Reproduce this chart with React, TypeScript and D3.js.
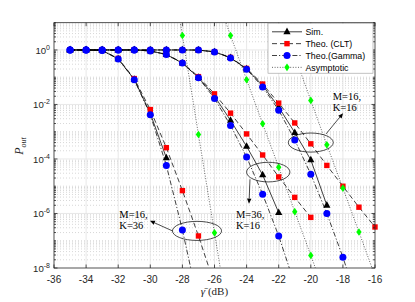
import { useEffect, useRef } from 'react'
import * as d3 from 'd3'

// axis ticks
const xTicks = [-36, -34, -32, -30, -28, -26, -24, -22, -20, -18, -16]
const yTickExps = [-8, -6, -4, -2, 0]

// M=16, K=36
const snrM16K36 = [-35, -34, -33, -32, -31, -30, -29, -28, -27, -26]
const simM16K36 = [1, 1, 0.96, 0.47, 0.083, 4.7e-3, 1.1e-4]
const cltM16K36 = [1, 1, 0.96, 0.49, 0.089, 6.5e-3, 2.6e-4, 6.9e-6, 1.5e-7, 2.5e-9]
const gamM16K36 = [1, 1, 0.96, 0.47, 0.081, 4.2e-3, 5.8e-5, 2.5e-7, 5e-10]
const snrAsyM16K36 = [-29, -28, -27, -26, -25]
const asyM16K36 = [1.4e4, 3.4, 7.9e-4, 1.95e-7, 5e-11]

// M=36, K=16
const snrM36K16 = [-35, -34, -33, -32, -31, -30, -29, -28, -27, -26, -25, -24, -23, -22, -21, -20]
const simM36K16 = [1, 1, 1, 1, 1, 0.92, 0.68, 0.33, 0.097, 0.02, 2.6e-3, 2.9e-4, 2.6e-5, 1.07e-6]
const cltM36K16 = [1, 1, 1, 1, 1, 0.92, 0.69, 0.34, 0.105, 0.0245, 4.8e-3, 8.3e-4, 1.4e-4, 2.2e-5, 3.9e-6, 7.2e-7]
const gamM36K16 = [1, 1, 1, 1, 1, 0.92, 0.68, 0.33, 0.095, 0.0166, 1.7e-3, 1.17e-4, 5.1e-6, 1.5e-7, 2.5e-9]
const snrAsyM36K16 = [-26, -25, -24, -23, -22, -21, -20, -19]
const asyM36K16 = [141, 3.4, 0.081, 1.95e-3, 5e-5, 1.17e-6, 2.9e-8, 7e-10]

// M=16, K=16
const snrM16K16 = [-35, -34, -33, -32, -31, -30, -29, -28, -27, -26, -25, -24, -23, -22, -21, -20, -19, -18, -17, -16]
const simM16K16 = [1, 1, 1, 1, 1, 1, 1, 1, 0.99, 0.85, 0.52, 0.2, 0.05, 8e-3, 9.3e-4, 9.3e-5, 2.0e-6]
const cltM16K16 = [1, 1, 1, 1, 1, 1, 1, 1, 0.99, 0.86, 0.53, 0.21, 0.056, 0.0112, 2.1e-3, 3.6e-4, 5.8e-5, 1.0e-5, 1.7e-6, 3.2e-7]
const gamM16K16 = [1, 1, 1, 1, 1, 1, 1, 1, 0.99, 0.85, 0.51, 0.195, 0.044, 6.2e-3, 5e-4, 2.75e-5, 1.0e-6, 2.5e-8, 4e-10]
const snrAsyM16K16 = [-22, -21, -20, -19, -18, -17, -16]
const asyM16K16 = [25, 0.6, 0.0141, 3.3e-4, 8.5e-6, 2.1e-7, 5e-9]

const legendLabels = ['Sim.', 'Theo. (CLT)', 'Theo.(Gamma)', 'Asymptotic']

// annotations: ellipse centre (dB, Pout), radii (dB, decades), arrow, text
const notes = [
  { lines: ['M=16,', 'K=36'], cx: -27.09, cy: 2.3e-7, rx: 1.53, ry: 0.35, from: [-28.62, 2.3e-7], to: [-30.02, 5.4e-7], tx: -31.93, ty: 7.1e-7 },
  { lines: ['M=36,', 'K=16'], cx: -22.65, cy: 3.3e-5, rx: 1.35, ry: 0.36, from: [-23.79, 1.8e-5], to: [-23.85, 2.3e-6], tx: -24.66, ty: 6.7e-7 },
  { lines: ['M=16,', 'K=16'], cx: -20.0, cy: 4.0e-4, rx: 1.4, ry: 0.35, from: [-19.05, 8.3e-4], to: [-17.99, 4.8e-3], tx: -18.64, ty: 0.0146 },
]

const zip = (xs: number[], vs: number[]) => vs.map((v, i) => [xs[i], v] as [number, number])

const plot = { left: 54, right: 375, top: 22.7, bottom: 268 }

export default function App() {
  const ref = useRef<SVGSVGElement>(null)

  useEffect(() => {
    const svg = d3.select(ref.current)
    svg.selectAll('*').remove()

    const x = d3.scaleLinear().domain([-36, -16]).range([plot.left, plot.right])
    const y = d3.scaleLog().domain([1e-8, 10]).range([plot.bottom, plot.top])
    const pxPerDecade = y(1) - y(10)
    const axisCol = '#262626'
    const sans = 'Liberation Sans, Arial, sans-serif'
    const serif = 'Liberation Serif, Times New Roman, serif'

    svg.append('rect').attr('width', 415).attr('height', 302).attr('fill', '#fff')
    svg.append('defs').append('clipPath').attr('id', 'plotclip')
      .append('rect')
      .attr('x', plot.left).attr('y', plot.top)
      .attr('width', plot.right - plot.left).attr('height', plot.bottom - plot.top)

    // log sub-ticks
    const logTicks: { v: number; major: boolean }[] = []
    for (let k = -8; k <= 0; k++) {
      for (let m = 1; m <= 9; m++) {
        const v = m * Math.pow(10, k)
        logTicks.push({ v, major: m === 1 && yTickExps.includes(k) })
      }
    }

    const grid = svg.append('g')
    grid.selectAll('line.minor')
      .data(logTicks.filter((t) => !t.major))
      .join('line')
      .attr('x1', plot.left).attr('x2', plot.right)
      .attr('y1', (d) => y(d.v)).attr('y2', (d) => y(d.v))
      .attr('stroke', '#bdbdbd').attr('stroke-width', 0.6).attr('stroke-dasharray', '1,2')
    grid.selectAll('line.hmaj')
      .data(logTicks.filter((t) => t.major && t.v < 1 && t.v > 1e-8).concat([{ v: 1, major: true }]))
      .join('line')
      .attr('x1', plot.left).attr('x2', plot.right)
      .attr('y1', (d) => y(d.v)).attr('y2', (d) => y(d.v))
      .attr('stroke', '#e2e2e2').attr('stroke-width', 0.8)
    grid.selectAll('line.vmaj')
      .data(xTicks.slice(1, -1))
      .join('line')
      .attr('x1', (d) => x(d)).attr('x2', (d) => x(d))
      .attr('y1', plot.top).attr('y2', plot.bottom)
      .attr('stroke', '#e2e2e2').attr('stroke-width', 0.8)

    // data
    const line = d3.line<[number, number]>().x((d) => x(d[0])).y((d) => y(d[1]))
    const data = svg.append('g')
    const lines = data.append('g').attr('clip-path', 'url(#plotclip)')
    const marks = data.append('g')
    const inRange = (d: [number, number]) => d[1] >= 1e-8 && d[1] <= 10

    const tri = 'M0,-4.2L3.6,2.4L-3.6,2.4Z'
    const diamond = 'M0,-3.8L2.7,0L0,3.8L-2.7,0Z'

    const drawMarkers = (g: any, pts: [number, number][], kind: string) => {
      if (kind === 'sim') {
        g.selectAll(null).data(pts).join('path')
          .attr('d', tri).attr('transform', (d: number[]) => `translate(${d[0]},${d[1]})`).attr('fill', '#000')
      } else if (kind === 'clt') {
        g.selectAll(null).data(pts).join('rect')
          .attr('x', (d: number[]) => d[0] - 2.7).attr('y', (d: number[]) => d[1] - 2.7)
          .attr('width', 5.4).attr('height', 5.4).attr('fill', '#ff0000')
      } else if (kind === 'gam') {
        g.selectAll(null).data(pts).join('circle')
          .attr('cx', (d: number[]) => d[0]).attr('cy', (d: number[]) => d[1]).attr('r', 3.5).attr('fill', '#0000ff')
      } else {
        g.selectAll(null).data(pts).join('path')
          .attr('d', diamond).attr('transform', (d: number[]) => `translate(${d[0]},${d[1]})`).attr('fill', '#00ff00')
      }
    }

    const drawSeries = (pts: [number, number][], dash: string | null, stroke: string, kind: string) => {
      lines.append('path').datum(pts)
        .attr('fill', 'none').attr('stroke', stroke).attr('stroke-width', 0.75)
        .attr('stroke-dasharray', dash)
        .attr('d', line)
      drawMarkers(marks, pts.filter(inRange).map((d) => [x(d[0]), y(d[1])] as [number, number]), kind)
    }

    const solid = null
    const dashed = '5,3'
    const dashDot = '5,2,1.2,2'
    const dotted = '1,1.6'

    drawSeries(zip(snrM16K36, simM16K36), solid, '#000', 'sim')
    drawSeries(zip(snrM36K16, simM36K16), solid, '#000', 'sim')
    drawSeries(zip(snrM16K16, simM16K16), solid, '#000', 'sim')
    drawSeries(zip(snrM16K36, cltM16K36), dashed, '#000', 'clt')
    drawSeries(zip(snrM36K16, cltM36K16), dashed, '#000', 'clt')
    drawSeries(zip(snrM16K16, cltM16K16), dashed, '#000', 'clt')
    drawSeries(zip(snrM16K36, gamM16K36), dashDot, '#000', 'gam')
    drawSeries(zip(snrM36K16, gamM36K16), dashDot, '#000', 'gam')
    drawSeries(zip(snrM16K16, gamM16K16), dashDot, '#000', 'gam')
    drawSeries(zip(snrAsyM16K36, asyM16K36), dotted, '#333', 'asy')
    drawSeries(zip(snrAsyM36K16, asyM36K16), dotted, '#333', 'asy')
    drawSeries(zip(snrAsyM16K16, asyM16K16), dotted, '#333', 'asy')

    // annotations
    const ann = svg.append('g')
    notes.forEach((n) => {
      ann.append('ellipse')
        .attr('cx', x(n.cx)).attr('cy', y(n.cy))
        .attr('rx', x(n.cx + n.rx) - x(n.cx)).attr('ry', n.ry * pxPerDecade)
        .attr('fill', 'none').attr('stroke', '#000').attr('stroke-width', 0.7)
      const x1 = x(n.from[0]), y1 = y(n.from[1]), x2 = x(n.to[0]), y2 = y(n.to[1])
      const a = Math.atan2(y2 - y1, x2 - x1)
      const L = 5, Wd = 2.2
      const bx = x2 - L * Math.cos(a), by = y2 - L * Math.sin(a)
      ann.append('line').attr('x1', x1).attr('y1', y1).attr('x2', bx).attr('y2', by)
        .attr('stroke', '#000').attr('stroke-width', 0.7)
      ann.append('path')
        .attr('d', `M${x2},${y2}L${bx - Wd * Math.sin(a)},${by + Wd * Math.cos(a)}L${bx + Wd * Math.sin(a)},${by - Wd * Math.cos(a)}Z`)
        .attr('fill', '#000')
      n.lines.forEach((t, i) => {
        ann.append('text')
          .attr('x', x(n.tx)).attr('y', y(n.ty) + i * 11)
          .attr('font-family', serif).attr('font-size', 10.5).attr('fill', '#000')
          .text(t)
      })
    })

    // frame and ticks
    const axes = svg.append('g').attr('stroke', axisCol).attr('stroke-width', 0.8)
    axes.append('rect')
      .attr('x', plot.left).attr('y', plot.top)
      .attr('width', plot.right - plot.left).attr('height', plot.bottom - plot.top)
      .attr('fill', 'none')
    xTicks.forEach((t) => {
      axes.append('line').attr('x1', x(t)).attr('x2', x(t)).attr('y1', plot.bottom).attr('y2', plot.bottom - 3.5)
      axes.append('line').attr('x1', x(t)).attr('x2', x(t)).attr('y1', plot.top).attr('y2', plot.top + 3.5)
    })
    logTicks.concat([{ v: 10, major: false }]).forEach((t) => {
      const len = t.major ? 3.5 : 2
      axes.append('line').attr('x1', plot.left).attr('x2', plot.left + len).attr('y1', y(t.v)).attr('y2', y(t.v))
      axes.append('line').attr('x1', plot.right).attr('x2', plot.right - len).attr('y1', y(t.v)).attr('y2', y(t.v))
    })

    svg.append('g').selectAll('text')
      .data(xTicks)
      .join('text')
      .attr('x', (d) => x(d)).attr('y', plot.bottom + 14.5)
      .attr('text-anchor', 'middle').attr('font-family', sans).attr('font-size', 10).attr('fill', axisCol)
      .text((d) => String(d))

    const yl = svg.append('g').selectAll('text')
      .data(yTickExps)
      .join('text')
      .attr('x', plot.left - 4).attr('y', (d) => y(Math.pow(10, d)) + 4)
      .attr('text-anchor', 'end').attr('font-family', sans).attr('font-size', 9.6).attr('fill', axisCol)
    yl.append('tspan').text('10')
    yl.append('tspan').attr('dy', -4.2).attr('font-size', 7).text((d) => String(d))

    // axis labels
    const xl = svg.append('text')
      .attr('x', (plot.left + plot.right) / 2).attr('y', 295)
      .attr('text-anchor', 'middle').attr('font-family', serif).attr('font-size', 11).attr('fill', axisCol)
    xl.append('tspan').attr('font-style', 'italic').text('\u03B3\u0304')
    xl.append('tspan').text(' (dB)')

    const ylab = svg.append('text')
      .attr('transform', `translate(23,146) rotate(-90)`)
      .attr('text-anchor', 'middle').attr('font-family', serif).attr('font-style', 'italic')
      .attr('font-size', 12).attr('fill', axisCol)
    ylab.append('tspan').text('P')
    ylab.append('tspan').attr('dy', 2.5).attr('font-size', 8).text('out')

    // legend
    const lg = svg.append('g')
    lg.append('rect').attr('x', 268).attr('y', plot.top + 0.5).attr('width', 105).attr('height', 50)
      .attr('fill', '#fff').attr('stroke', '#9a9a9a').attr('stroke-width', 0.6)
    const styles = [
      { dash: solid, kind: 'sim' },
      { dash: dashed, kind: 'clt' },
      { dash: dashDot, kind: 'gam' },
      { dash: dotted, kind: 'asy' },
    ]
    legendLabels.forEach((lab, i) => {
      const ly = 31.8 + i * 11.85
      lg.append('line').attr('x1', 272).attr('x2', 302).attr('y1', ly).attr('y2', ly)
        .attr('stroke', i === 3 ? '#333' : '#000').attr('stroke-width', 0.75)
        .attr('stroke-dasharray', styles[i].dash)
      drawMarkers(lg.append('g'), [[287, ly]], styles[i].kind)
      lg.append('text').attr('x', 305.5).attr('y', ly + 3.2)
        .attr('font-family', sans).attr('font-size', 8.8).attr('fill', '#000')
        .text(lab)
    })
  }, [])

  return <svg ref={ref} width={415} height={302} style={{ position: 'absolute', left: 0, top: 0 }} />
}
